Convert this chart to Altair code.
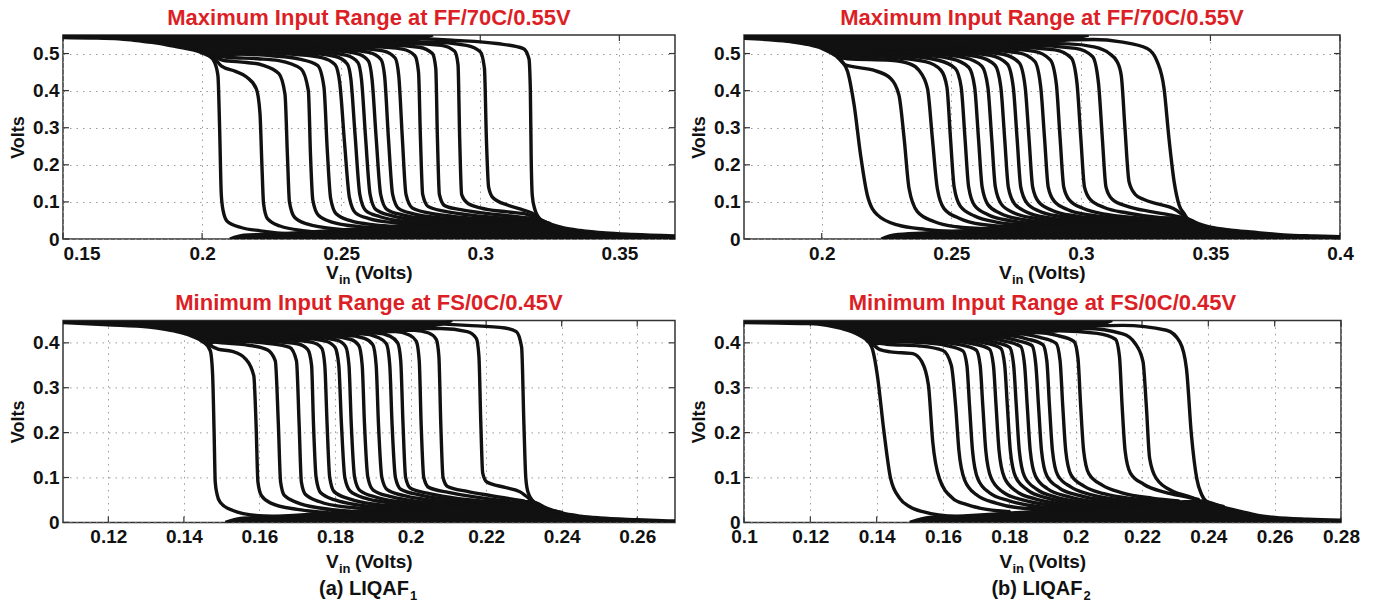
import altair as alt
import pandas as pd

FONT = "Liberation Sans"
INK = "#111111"
RED = "#dc1f26"
SW = 3.4

TITLE_MAX = "Maximum Input Range at FF/70C/0.55V"
TITLE_MIN = "Minimum Input Range at FS/0C/0.45V"

Y_TICKS_MAX = [0, 0.1, 0.2, 0.3, 0.4, 0.5]
Y_TICKS_MIN = [0, 0.1, 0.2, 0.3, 0.4]
P1_XTICKS = [0.15, 0.2, 0.25, 0.3, 0.35]
P2_XTICKS = [0.2, 0.25, 0.3, 0.35, 0.4]
P3_XTICKS = [0.12, 0.14, 0.16, 0.18, 0.2, 0.22, 0.24, 0.26]
P4_XTICKS = [0.1, 0.12, 0.14, 0.16, 0.18, 0.2, 0.22, 0.24, 0.26, 0.28]

# ---------------- panel 1 (LIQAF1, max range) ----------------
P1_TOP_X = [0.150, 0.160, 0.170, 0.1755, 0.182, 0.1876, 0.1925, 0.1971, 0.2000, 0.2025, 0.2050, 0.2100,
            0.2200, 0.2300, 0.2400, 0.2500, 0.2600, 0.2700, 0.2760, 0.2800, 0.2830]
P1_TOP_Y = [0.543, 0.542, 0.540, 0.536, 0.530, 0.523, 0.516, 0.509, 0.502, 0.494, 0.492, 0.497,
            0.503, 0.508, 0.513, 0.518, 0.524, 0.531, 0.536, 0.543, 0.550]
P1_BOT_X = [0.2100, 0.2150, 0.2250, 0.2350, 0.2450, 0.2550, 0.2650, 0.2750, 0.2850, 0.2950, 0.3050,
            0.3150, 0.3190, 0.3215, 0.3252, 0.3300, 0.3359, 0.3450, 0.3550, 0.3700]
P1_BOT_Y = [0.000, 0.010, 0.013, 0.017, 0.022, 0.027, 0.032, 0.037, 0.042, 0.047, 0.051,
            0.055, 0.056, 0.052, 0.040, 0.030, 0.023, 0.016, 0.012, 0.008]
P1_CURVES = [
    [(0.2025, 0.494), (0.2045, 0.476), (0.2057, 0.440), (0.2063, 0.300), (0.2069, 0.120), (0.2076, 0.075), (0.2090, 0.048), (0.2140, 0.031), (0.2210, 0.022), (0.2330, 0.013), (0.2420, 0.011)],
    [(0.2045, 0.488), (0.2070, 0.466), (0.2120, 0.452), (0.2160, 0.437), (0.2195, 0.405), (0.2208, 0.340), (0.2215, 0.200), (0.2221, 0.095), (0.2235, 0.055), (0.2280, 0.035), (0.2370, 0.022), (0.2460, 0.016)],
    [(0.2048, 0.492), (0.2075, 0.482), (0.2160, 0.476), (0.2217, 0.469), (0.2276, 0.446), (0.2298, 0.390), (0.2307, 0.220), (0.2314, 0.100), (0.2333, 0.058), (0.2380, 0.040), (0.2430, 0.032), (0.2530, 0.024)],
    [(0.2055, 0.495), (0.2090, 0.490), (0.2200, 0.486), (0.2276, 0.481), (0.2355, 0.459), (0.2382, 0.400), (0.2390, 0.220), (0.2398, 0.105), (0.2418, 0.064), (0.2470, 0.045), (0.2560, 0.034), (0.2640, 0.030)],
    [(0.2120, 0.499), (0.2250, 0.494), (0.2350, 0.485), (0.2415, 0.468), (0.2438, 0.410), (0.2450, 0.240), (0.2462, 0.110), (0.2482, 0.068), (0.2530, 0.050), (0.2620, 0.038), (0.2700, 0.034)],
    [(0.2180, 0.503), (0.2330, 0.498), (0.2430, 0.489), (0.2478, 0.470), (0.2495, 0.420), (0.2512, 0.260), (0.2530, 0.110), (0.2552, 0.070), (0.2600, 0.055), (0.2700, 0.043), (0.2780, 0.038)],
    [(0.2230, 0.505), (0.2380, 0.501), (0.2480, 0.492), (0.2522, 0.472), (0.2535, 0.430), (0.2550, 0.280), (0.2567, 0.120), (0.2588, 0.077), (0.2640, 0.060), (0.2740, 0.047), (0.2880, 0.041)],
    [(0.2280, 0.508), (0.2420, 0.505), (0.2520, 0.495), (0.2560, 0.476), (0.2573, 0.430), (0.2588, 0.270), (0.2604, 0.120), (0.2625, 0.079), (0.2680, 0.063), (0.2780, 0.051), (0.2950, 0.045)],
    [(0.2330, 0.510), (0.2470, 0.508), (0.2560, 0.499), (0.2598, 0.480), (0.2611, 0.430), (0.2626, 0.270), (0.2642, 0.120), (0.2664, 0.080), (0.2720, 0.065), (0.2820, 0.054), (0.3000, 0.048)],
    [(0.2380, 0.513), (0.2510, 0.511), (0.2600, 0.503), (0.2643, 0.484), (0.2656, 0.440), (0.2670, 0.270), (0.2685, 0.120), (0.2707, 0.082), (0.2760, 0.068), (0.2860, 0.057), (0.3050, 0.050)],
    [(0.2430, 0.516), (0.2560, 0.514), (0.2650, 0.507), (0.2694, 0.488), (0.2707, 0.440), (0.2720, 0.270), (0.2733, 0.120), (0.2755, 0.084), (0.2810, 0.071), (0.2900, 0.061), (0.3100, 0.052)],
    [(0.2490, 0.519), (0.2620, 0.518), (0.2720, 0.512), (0.2765, 0.494), (0.2778, 0.450), (0.2785, 0.270), (0.2793, 0.120), (0.2812, 0.088), (0.2870, 0.075), (0.2960, 0.065), (0.3140, 0.054)],
    [(0.2550, 0.522), (0.2680, 0.522), (0.2780, 0.517), (0.2828, 0.500), (0.2840, 0.460), (0.2846, 0.270), (0.2853, 0.120), (0.2872, 0.090), (0.2930, 0.079), (0.3020, 0.069), (0.3110, 0.062), (0.3180, 0.056)],
    [(0.2620, 0.526), (0.2750, 0.527), (0.2860, 0.522), (0.2908, 0.506), (0.2920, 0.470), (0.2926, 0.270), (0.2933, 0.120), (0.2952, 0.098), (0.3000, 0.084), (0.3100, 0.073), (0.3170, 0.066), (0.3200, 0.058)],
    [(0.2700, 0.531), (0.2820, 0.531), (0.2950, 0.522), (0.3000, 0.505), (0.3015, 0.460), (0.3022, 0.270), (0.3030, 0.140), (0.3045, 0.112), (0.3100, 0.091), (0.3155, 0.078), (0.3185, 0.070), (0.3205, 0.058)],
    [(0.2780, 0.541), (0.2900, 0.536), (0.3059, 0.527), (0.3155, 0.5135), (0.3175, 0.486), (0.3180, 0.400), (0.3183, 0.220), (0.3187, 0.117), (0.3195, 0.083), (0.3215, 0.054), (0.3250, 0.042)],
]

# ---------------- panel 2 (LIQAF2, max range) ----------------
P2_TOP_X = [0.170, 0.180, 0.188, 0.195, 0.200, 0.2035, 0.2060, 0.2080, 0.2100, 0.2200, 0.2300, 0.2400,
            0.2500, 0.2600, 0.2700, 0.2800, 0.2880, 0.2950, 0.3000, 0.3030]
P2_TOP_Y = [0.541, 0.537, 0.532, 0.524, 0.514, 0.502, 0.492, 0.489, 0.492, 0.499, 0.504, 0.508,
            0.512, 0.516, 0.521, 0.526, 0.531, 0.537, 0.545, 0.550]
P2_BOT_X = [0.2230, 0.2280, 0.2400, 0.2500, 0.2600, 0.2700, 0.2800, 0.2900, 0.3000, 0.3100, 0.3200,
            0.3300, 0.3380, 0.3411, 0.3450, 0.3500, 0.3580, 0.3655, 0.3783, 0.3900, 0.4000]
P2_BOT_Y = [0.000, 0.011, 0.016, 0.020, 0.025, 0.030, 0.035, 0.040, 0.044, 0.048, 0.052,
            0.055, 0.057, 0.055, 0.042, 0.032, 0.024, 0.019, 0.011, 0.008, 0.006]
P2_CURVES = [
    [(0.2060, 0.490), (0.2080, 0.478), (0.2100, 0.451), (0.2125, 0.361), (0.2150, 0.226), (0.2176, 0.118), (0.2215, 0.065), (0.2292, 0.038), (0.2400, 0.026), (0.2500, 0.021), (0.2600, 0.020)],
    [(0.2065, 0.488), (0.2090, 0.470), (0.2125, 0.464), (0.2200, 0.455), (0.2266, 0.433), (0.2298, 0.388), (0.2318, 0.271), (0.2337, 0.136), (0.2369, 0.074), (0.2433, 0.047), (0.2520, 0.033), (0.2650, 0.027)],
    [(0.2070, 0.490), (0.2100, 0.486), (0.2266, 0.482), (0.2340, 0.472), (0.2375, 0.455), (0.2408, 0.406), (0.2427, 0.271), (0.2446, 0.136), (0.2472, 0.082), (0.2530, 0.056), (0.2620, 0.039), (0.2750, 0.032)],
    [(0.2100, 0.493), (0.2250, 0.490), (0.2400, 0.478), (0.2460, 0.455), (0.2483, 0.410), (0.2497, 0.270), (0.2511, 0.140), (0.2535, 0.088), (0.2590, 0.062), (0.2680, 0.045), (0.2820, 0.036)],
    [(0.2150, 0.496), (0.2300, 0.494), (0.2450, 0.482), (0.2515, 0.460), (0.2538, 0.410), (0.2553, 0.270), (0.2567, 0.140), (0.2590, 0.090), (0.2640, 0.066), (0.2730, 0.049), (0.2880, 0.039)],
    [(0.2200, 0.499), (0.2350, 0.497), (0.2500, 0.486), (0.2567, 0.463), (0.2590, 0.410), (0.2605, 0.270), (0.2619, 0.140), (0.2642, 0.092), (0.2690, 0.069), (0.2780, 0.052), (0.2940, 0.042)],
    [(0.2250, 0.502), (0.2400, 0.500), (0.2550, 0.489), (0.2618, 0.466), (0.2641, 0.410), (0.2656, 0.270), (0.2670, 0.140), (0.2693, 0.094), (0.2740, 0.071), (0.2830, 0.055), (0.3000, 0.045)],
    [(0.2300, 0.504), (0.2450, 0.502), (0.2600, 0.492), (0.2668, 0.469), (0.2691, 0.410), (0.2706, 0.270), (0.2720, 0.140), (0.2743, 0.096), (0.2790, 0.073), (0.2880, 0.057), (0.3060, 0.047)],
    [(0.2350, 0.506), (0.2500, 0.505), (0.2650, 0.495), (0.2716, 0.472), (0.2739, 0.410), (0.2754, 0.270), (0.2768, 0.140), (0.2791, 0.098), (0.2840, 0.075), (0.2930, 0.060), (0.3110, 0.049)],
    [(0.2400, 0.508), (0.2550, 0.508), (0.2700, 0.498), (0.2762, 0.475), (0.2785, 0.410), (0.2800, 0.270), (0.2814, 0.140), (0.2837, 0.100), (0.2890, 0.077), (0.2980, 0.062), (0.3160, 0.051)],
    [(0.2450, 0.510), (0.2600, 0.511), (0.2760, 0.502), (0.2822, 0.479), (0.2845, 0.410), (0.2860, 0.270), (0.2874, 0.140), (0.2897, 0.102), (0.2950, 0.079), (0.3040, 0.064), (0.3210, 0.053)],
    [(0.2500, 0.512), (0.2650, 0.514), (0.2820, 0.506), (0.2882, 0.483), (0.2905, 0.420), (0.2920, 0.270), (0.2934, 0.140), (0.2957, 0.104), (0.3010, 0.082), (0.3100, 0.066), (0.3260, 0.055)],
    [(0.2570, 0.515), (0.2720, 0.518), (0.2900, 0.510), (0.2963, 0.488), (0.2985, 0.420), (0.3000, 0.270), (0.3014, 0.140), (0.3037, 0.106), (0.3090, 0.085), (0.3180, 0.070), (0.3300, 0.058), (0.3360, 0.056)],
    [(0.2650, 0.519), (0.2800, 0.522), (0.2980, 0.514), (0.3045, 0.492), (0.3068, 0.420), (0.3083, 0.270), (0.3097, 0.140), (0.3120, 0.108), (0.3180, 0.088), (0.3270, 0.074), (0.3350, 0.064), (0.3390, 0.058)],
    [(0.2800, 0.527), (0.2950, 0.526), (0.3050, 0.518), (0.3110, 0.500), (0.3140, 0.478), (0.3156, 0.440), (0.3170, 0.300), (0.3186, 0.154), (0.3210, 0.120), (0.3241, 0.107), (0.3300, 0.094), (0.3357, 0.082), (0.3384, 0.070), (0.3405, 0.058)],
    [(0.2950, 0.537), (0.3050, 0.538), (0.3154, 0.5315), (0.3256, 0.5135), (0.3295, 0.4777), (0.3321, 0.4057), (0.3340, 0.271), (0.3360, 0.154), (0.3379, 0.0916), (0.3398, 0.069), (0.3411, 0.0555), (0.3450, 0.042)],
]

# ---------------- panel 3 (LIQAF1, min range) ----------------
P3_TOP_X = [0.108, 0.120, 0.1308, 0.1350, 0.1387, 0.1415, 0.1440, 0.1455, 0.1465, 0.1480, 0.1550,
            0.1650, 0.1750, 0.1850, 0.1950, 0.2000, 0.2050, 0.2080, 0.2110]
P3_TOP_Y = [0.445, 0.4404, 0.435, 0.430, 0.424, 0.417, 0.408, 0.400, 0.396, 0.402, 0.407,
            0.412, 0.417, 0.422, 0.428, 0.432, 0.437, 0.442, 0.450]
P3_BOT_X = [0.1510, 0.1550, 0.1600, 0.1700, 0.1800, 0.1900, 0.2000, 0.2100, 0.2200, 0.2280, 0.2320,
            0.2360, 0.2400, 0.2450, 0.2500, 0.2600, 0.2700]
P3_BOT_Y = [0.000, 0.009, 0.011, 0.016, 0.022, 0.028, 0.033, 0.038, 0.043, 0.046, 0.046,
            0.032, 0.021, 0.014, 0.010, 0.006, 0.003]
P3_CURVES = [
    [(0.1455, 0.400), (0.1470, 0.382), (0.1476, 0.330), (0.1480, 0.200), (0.1483, 0.090), (0.1488, 0.062), (0.1496, 0.045), (0.1528, 0.027), (0.1598, 0.015), (0.1680, 0.013)],
    [(0.1468, 0.395), (0.1490, 0.386), (0.1528, 0.381), (0.1563, 0.3645), (0.1585, 0.327), (0.1591, 0.220), (0.1596, 0.090), (0.1605, 0.060), (0.1630, 0.043), (0.1700, 0.029), (0.1780, 0.022)],
    [(0.1472, 0.403), (0.1500, 0.400), (0.1560, 0.396), (0.1620, 0.385), (0.1642, 0.360), (0.1650, 0.220), (0.1656, 0.090), (0.1666, 0.060), (0.1700, 0.044), (0.1760, 0.032), (0.1840, 0.025)],
    [(0.1480, 0.405), (0.1540, 0.404), (0.1620, 0.399), (0.1680, 0.390), (0.1698, 0.360), (0.1705, 0.220), (0.1711, 0.090), (0.1722, 0.062), (0.1760, 0.046), (0.1820, 0.035), (0.1930, 0.029)],
    [(0.1530, 0.407), (0.1620, 0.404), (0.1700, 0.398), (0.1728, 0.385), (0.1738, 0.350), (0.1743, 0.220), (0.1750, 0.100), (0.1762, 0.066), (0.1800, 0.050), (0.1860, 0.039), (0.1970, 0.032)],
    [(0.1580, 0.409), (0.1670, 0.407), (0.1740, 0.401), (0.1765, 0.388), (0.1773, 0.350), (0.1779, 0.220), (0.1786, 0.100), (0.1798, 0.068), (0.1840, 0.052), (0.1900, 0.041), (0.2010, 0.034)],
    [(0.1630, 0.411), (0.1710, 0.410), (0.1775, 0.404), (0.1800, 0.390), (0.1810, 0.350), (0.1817, 0.220), (0.1826, 0.100), (0.1840, 0.070), (0.1880, 0.054), (0.1940, 0.044), (0.2050, 0.036)],
    [(0.1680, 0.413), (0.1750, 0.412), (0.1805, 0.406), (0.1828, 0.392), (0.1837, 0.350), (0.1843, 0.220), (0.1852, 0.100), (0.1866, 0.071), (0.1910, 0.056), (0.1970, 0.046), (0.2080, 0.038)],
    [(0.1720, 0.415), (0.1790, 0.414), (0.1840, 0.408), (0.1863, 0.394), (0.1872, 0.350), (0.1878, 0.220), (0.1887, 0.100), (0.1901, 0.072), (0.1945, 0.058), (0.2000, 0.049), (0.2120, 0.040)],
    [(0.1760, 0.417), (0.1830, 0.417), (0.1878, 0.410), (0.1900, 0.396), (0.1909, 0.350), (0.1915, 0.220), (0.1924, 0.100), (0.1938, 0.073), (0.1980, 0.060), (0.2040, 0.051), (0.2150, 0.042)],
    [(0.1800, 0.419), (0.1870, 0.420), (0.1914, 0.412), (0.1936, 0.398), (0.1945, 0.350), (0.1951, 0.220), (0.1960, 0.100), (0.1974, 0.074), (0.2020, 0.062), (0.2080, 0.053), (0.2190, 0.044)],
    [(0.1840, 0.421), (0.1910, 0.422), (0.1945, 0.415), (0.1966, 0.400), (0.1974, 0.360), (0.1980, 0.220), (0.1987, 0.100), (0.2000, 0.076), (0.2050, 0.064), (0.2110, 0.055), (0.2230, 0.045)],
    [(0.1890, 0.424), (0.1960, 0.425), (0.1995, 0.418), (0.2015, 0.404), (0.2023, 0.360), (0.2028, 0.220), (0.2035, 0.100), (0.2048, 0.078), (0.2100, 0.067), (0.2160, 0.058), (0.2260, 0.047)],
    [(0.1950, 0.428), (0.2010, 0.428), (0.2048, 0.422), (0.2068, 0.408), (0.2075, 0.370), (0.2080, 0.220), (0.2086, 0.100), (0.2098, 0.080), (0.2150, 0.069), (0.2210, 0.060), (0.2300, 0.048)],
    [(0.2000, 0.432), (0.2080, 0.432), (0.2150, 0.425), (0.2174, 0.410), (0.2181, 0.370), (0.2186, 0.220), (0.2191, 0.110), (0.2202, 0.090), (0.2250, 0.078), (0.2290, 0.068), (0.2315, 0.052)],
    [(0.2080, 0.442), (0.2150, 0.439), (0.2250, 0.433), (0.2280, 0.425), (0.2294, 0.390), (0.2300, 0.220), (0.2305, 0.100), (0.2311, 0.067), (0.2328, 0.0446), (0.2400, 0.0223)],
]

# ---------------- panel 4 (LIQAF2, min range) ----------------
P4_TOP_X = [0.100, 0.110, 0.120, 0.1250, 0.1294, 0.1325, 0.1348, 0.1365, 0.1375, 0.1385, 0.1400,
            0.1450, 0.1550, 0.1650, 0.1750, 0.1850, 0.1950, 0.2000, 0.2050, 0.2080, 0.2110]
P4_TOP_Y = [0.445, 0.444, 0.443, 0.439, 0.432, 0.425, 0.417, 0.409, 0.402, 0.396, 0.398,
            0.402, 0.407, 0.412, 0.417, 0.422, 0.428, 0.432, 0.437, 0.442, 0.450]
P4_BOT_X = [0.1500, 0.1560, 0.1650, 0.1750, 0.1850, 0.1950, 0.2050, 0.2150, 0.2250, 0.2330, 0.2380,
            0.2400, 0.2445, 0.2500, 0.2546, 0.2600, 0.2700, 0.2800]
P4_BOT_Y = [0.000, 0.011, 0.014, 0.018, 0.023, 0.028, 0.033, 0.038, 0.043, 0.046, 0.048,
            0.045, 0.034, 0.024, 0.016, 0.011, 0.007, 0.005]
P4_CURVES = [
    [(0.1380, 0.398), (0.1388, 0.384), (0.1402, 0.328), (0.1422, 0.202), (0.1442, 0.098), (0.1469, 0.054), (0.1500, 0.035), (0.1536, 0.0244), (0.1643, 0.013), (0.1750, 0.012)],
    [(0.1390, 0.396), (0.1410, 0.385), (0.1442, 0.380), (0.1509, 0.376), (0.1536, 0.358), (0.1556, 0.306), (0.1569, 0.180), (0.1589, 0.098), (0.1629, 0.054), (0.1670, 0.040), (0.1710, 0.032), (0.1800, 0.024)],
    [(0.1395, 0.401), (0.1430, 0.397), (0.1530, 0.393), (0.1600, 0.383), (0.1625, 0.350), (0.1638, 0.260), (0.1648, 0.160), (0.1665, 0.095), (0.1700, 0.062), (0.1760, 0.043), (0.1850, 0.031), (0.1950, 0.029)],
    [(0.1420, 0.403), (0.1520, 0.401), (0.1610, 0.394), (0.1660, 0.382), (0.1672, 0.350), (0.1680, 0.260), (0.1689, 0.160), (0.1705, 0.097), (0.1740, 0.066), (0.1800, 0.048), (0.1890, 0.035), (0.1990, 0.031)],
    [(0.1460, 0.404), (0.1560, 0.403), (0.1650, 0.396), (0.1700, 0.384), (0.1712, 0.350), (0.1720, 0.260), (0.1729, 0.160), (0.1745, 0.099), (0.1780, 0.068), (0.1840, 0.050), (0.1930, 0.038), (0.2030, 0.033)],
    [(0.1500, 0.406), (0.1600, 0.405), (0.1690, 0.398), (0.1740, 0.386), (0.1752, 0.350), (0.1760, 0.260), (0.1769, 0.160), (0.1785, 0.100), (0.1820, 0.070), (0.1880, 0.052), (0.1970, 0.040), (0.2070, 0.035)],
    [(0.1540, 0.408), (0.1640, 0.408), (0.1725, 0.400), (0.1774, 0.388), (0.1786, 0.350), (0.1794, 0.260), (0.1803, 0.160), (0.1819, 0.101), (0.1855, 0.072), (0.1915, 0.054), (0.2000, 0.042), (0.2100, 0.037)],
    [(0.1580, 0.410), (0.1670, 0.410), (0.1752, 0.402), (0.1801, 0.390), (0.1813, 0.350), (0.1821, 0.260), (0.1830, 0.160), (0.1846, 0.102), (0.1882, 0.074), (0.1942, 0.056), (0.2030, 0.044), (0.2130, 0.039)],
    [(0.1620, 0.412), (0.1710, 0.412), (0.1785, 0.404), (0.1834, 0.392), (0.1846, 0.350), (0.1854, 0.260), (0.1863, 0.160), (0.1879, 0.103), (0.1915, 0.075), (0.1975, 0.058), (0.2060, 0.046), (0.2170, 0.041)],
    [(0.1660, 0.414), (0.1750, 0.414), (0.1819, 0.406), (0.1868, 0.394), (0.1880, 0.350), (0.1888, 0.260), (0.1897, 0.160), (0.1913, 0.104), (0.1950, 0.077), (0.2010, 0.060), (0.2100, 0.048), (0.2200, 0.043)],
    [(0.1700, 0.416), (0.1790, 0.417), (0.1852, 0.409), (0.1901, 0.396), (0.1913, 0.360), (0.1921, 0.260), (0.1930, 0.160), (0.1946, 0.105), (0.1985, 0.079), (0.2045, 0.062), (0.2140, 0.050), (0.2240, 0.045)],
    [(0.1740, 0.418), (0.1830, 0.420), (0.1892, 0.412), (0.1941, 0.399), (0.1953, 0.360), (0.1961, 0.260), (0.1970, 0.160), (0.1986, 0.106), (0.2025, 0.081), (0.2085, 0.064), (0.2180, 0.052), (0.2280, 0.046)],
    [(0.1790, 0.420), (0.1880, 0.423), (0.1946, 0.416), (0.1995, 0.403), (0.2007, 0.365), (0.2015, 0.260), (0.2024, 0.160), (0.2040, 0.108), (0.2080, 0.083), (0.2140, 0.066), (0.2230, 0.054), (0.2310, 0.048)],
    [(0.1850, 0.423), (0.1950, 0.427), (0.2065, 0.421), (0.2120, 0.408), (0.2132, 0.370), (0.2140, 0.260), (0.2149, 0.160), (0.2165, 0.110), (0.2205, 0.085), (0.2270, 0.067), (0.2340, 0.056), (0.2370, 0.051)],
    [(0.1920, 0.428), (0.2030, 0.432), (0.2142, 0.420), (0.2180, 0.398), (0.2203, 0.358), (0.2213, 0.260), (0.2223, 0.143), (0.2243, 0.098), (0.2294, 0.069), (0.2340, 0.058), (0.2365, 0.051)],
    [(0.2000, 0.437), (0.2142, 0.439), (0.2274, 0.428), (0.2314, 0.402), (0.2334, 0.343), (0.2349, 0.195), (0.2365, 0.098), (0.2380, 0.0616), (0.2395, 0.0467), (0.2445, 0.0356)],
]

TICK_LEN = 6


def text_chart(text, px, py, size, color=INK, align="left"):
    return alt.Chart(pd.DataFrame({"t": [text]})).mark_text(
        align=align, baseline="alphabetic", font=FONT, fontSize=size,
        fontWeight="bold", color=color
    ).encode(x=alt.value(px), y=alt.value(py), text="t:N")


def build_panel(title, xdom, ydom, xticks, yticks, top_x, top_y, bot_x, bot_y, curves,
                w, h, title_off, xt_dy, flush, caption=None, sub=None):
    X = alt.X("x:Q", scale=alt.Scale(domain=xdom, nice=False, zero=False),
              axis=alt.Axis(values=xticks, format="~g", title=None, labelFlush=flush,
                            labelOverlap=False, labelPadding=5))
    Y = alt.Y("y:Q", scale=alt.Scale(domain=ydom, nice=False, zero=False),
              axis=alt.Axis(values=yticks, format="~g", title="Volts", titleX=-45, titleY=h / 2,
                            titleAngle=270, titleAlign="center", titleBaseline="middle"))
    top_df = pd.DataFrame({"x": top_x, "y": top_y})
    bot_df = pd.DataFrame({"x": bot_x, "y": bot_y})
    rows = []
    for ci, cv in enumerate(curves):
        for k, (x, y) in enumerate(cv):
            rows.append({"c": ci, "k": k, "x": x, "y": y})
    cur_df = pd.DataFrame(rows)
    xt_df = pd.DataFrame({"x": xticks})
    yt_df = pd.DataFrame({"y": yticks})

    area_top = alt.Chart(top_df).mark_area(interpolate="monotone", color=INK, clip=True).encode(
        x=X, y=Y, y2=alt.datum(ydom[1]))
    edge_top = alt.Chart(top_df).mark_line(interpolate="monotone", color=INK, strokeWidth=SW,
                                           clip=True).encode(x=X, y=Y)
    area_bot = alt.Chart(bot_df).mark_area(interpolate="monotone", color=INK, clip=True).encode(
        x=X, y=Y, y2=alt.datum(0))
    edge_bot = alt.Chart(bot_df).mark_line(interpolate="monotone", color=INK, strokeWidth=SW,
                                           clip=True).encode(x=X, y=Y)
    lines = alt.Chart(cur_df).mark_line(interpolate="monotone", color=INK, strokeWidth=SW,
                                        strokeCap="round", strokeJoin="round", clip=True).encode(
        x=X, y=Y, detail="c:N", order="k:Q")

    tick_style = dict(color="#333333", strokeWidth=1.2)
    ticks_b = alt.Chart(xt_df).mark_rule(**tick_style).encode(
        x=X, y=alt.value(h), y2=alt.value(h - TICK_LEN))
    ticks_t = alt.Chart(xt_df).mark_rule(**tick_style).encode(
        x=X, y=alt.value(0), y2=alt.value(TICK_LEN))
    ticks_l = alt.Chart(yt_df).mark_rule(**tick_style).encode(
        y=Y, x=alt.value(0), x2=alt.value(TICK_LEN))
    ticks_r = alt.Chart(yt_df).mark_rule(**tick_style).encode(
        y=Y, x=alt.value(w), x2=alt.value(w - TICK_LEN))

    c = w / 2
    layers = [ticks_b, ticks_t, ticks_l, ticks_r,
              area_top, edge_top, area_bot, edge_bot, lines,
              text_chart("V", c - 43, h + xt_dy, 19),
              text_chart("in", c - 30, h + xt_dy + 5, 13),
              text_chart("(Volts)", c - 14, h + xt_dy, 19)]
    if caption:
        layers.append(text_chart(caption, c + 40, h + 73, 20, align="right"))
        layers.append(text_chart(sub, c + 41, h + 78, 13))
    return alt.layer(*layers).properties(
        width=w, height=h,
        title=alt.TitleParams(title, color=RED, font=FONT, fontSize=22, fontWeight="bold",
                              offset=title_off, baseline="alphabetic", frame="group", anchor="middle"))


p1 = build_panel(TITLE_MAX, [0.15, 0.37], [0, 0.55], P1_XTICKS, Y_TICKS_MAX, P1_TOP_X, P1_TOP_Y,
                 P1_BOT_X, P1_BOT_Y, P1_CURVES, 612, 204, -13, 40, True)
p2 = build_panel(TITLE_MAX, [0.17, 0.40], [0, 0.55], P2_XTICKS, Y_TICKS_MAX, P2_TOP_X, P2_TOP_Y,
                 P2_BOT_X, P2_BOT_Y, P2_CURVES, 596, 204, -13, 40, False)
p3 = build_panel(TITLE_MIN, [0.108, 0.27], [0, 0.45], P3_XTICKS, Y_TICKS_MIN, P3_TOP_X, P3_TOP_Y,
                 P3_BOT_X, P3_BOT_Y, P3_CURVES, 612, 202, -12, 46, False, "(a) LIQAF", "1")
p4 = build_panel(TITLE_MIN, [0.10, 0.28], [0, 0.45], P4_XTICKS, Y_TICKS_MIN, P4_TOP_X, P4_TOP_Y,
                 P4_BOT_X, P4_BOT_Y, P4_CURVES, 597, 202, -12, 46, False, "(b) LIQAF", "2")

chart = alt.concat(p1, p2, p3, p4, columns=2, spacing={"row": 81.4, "column": 69},
                   bounds="flush").properties(
    padding={"left": 8, "top": 6, "right": 4, "bottom": 0},
    background="white",
).configure_view(
    stroke="#333333", strokeWidth=1.5
).configure_axis(
    labelFont=FONT, labelFontSize=19, labelFontWeight="bold", labelColor=INK,
    titleFont=FONT, titleFontSize=18, titleFontWeight="bold", titleColor=INK,
    grid=True, gridColor="#9a9a9a", gridDash=[1.5, 5], gridWidth=1,
    ticks=False, tickSize=0, domain=False, labelPadding=4,
)

chart.save("out.html", embed_options={"renderer": "svg", "actions": False})
